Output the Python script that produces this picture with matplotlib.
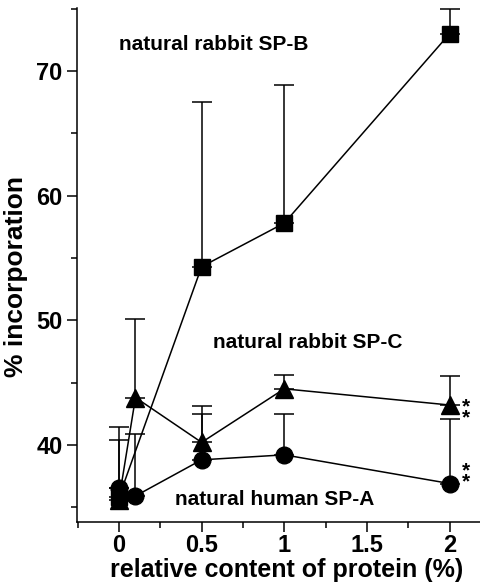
import numpy as np
import matplotlib
matplotlib.use("Agg")
import matplotlib.pyplot as plt
from matplotlib.ticker import MultipleLocator

plt.rcParams['font.family'] = ['Liberation Sans', 'DejaVu Sans']
plt.rcParams['font.weight'] = 'bold'

# --- data ---
x_spb = [0, 0.5, 1, 2]
y_spb = [35.8, 54.3, 57.8, 73.0]
e_spb = [5.6, 13.2, 11.1, 2.0]

x_spc = [0, 0.1, 0.5, 1, 2]
y_spc = [35.6, 43.8, 40.2, 44.5, 43.2]
e_spc = [4.8, 6.3, 2.9, 1.1, 2.3]

x_spa = [0, 0.1, 0.5, 1, 2]
y_spa = [36.5, 35.9, 38.8, 39.2, 36.9]
e_spa = [0.0, 5.0, 3.7, 3.3, 5.2]

fig = plt.figure(figsize=(4.81, 5.86), dpi=100)
ax = fig.add_axes([0.160, 0.109, 0.840, 0.877])

series = [
    (x_spb, y_spb, e_spb, 's', 11),
    (x_spc, y_spc, e_spc, '^', 13),
    (x_spa, y_spa, e_spa, 'o', 12),
]
for xs, ys, es, mk, ms in series:
    ax.errorbar(xs, ys, yerr=[np.zeros(len(es)), es], fmt='none',
                ecolor='black', elinewidth=1.1, capsize=7, capthick=1.1, zorder=2)
    ax.plot(xs, ys, color='black', linewidth=1.1, marker=mk, markersize=ms,
            markerfacecolor='black', markeredgecolor='black', zorder=3)

ax.text(0.0, 72.1, 'natural rabbit SP-B', fontsize=15, fontweight='bold', va='center')
ax.text(0.57, 48.25, 'natural rabbit SP-C', fontsize=15, fontweight='bold', va='center')
ax.text(0.34, 35.6, 'natural human SP-A', fontsize=15, fontweight='bold', va='center')

ax.text(2.10, 42.6, '*\n*', fontsize=15, fontweight='bold', va='center', ha='center', linespacing=0.45)
ax.text(2.10, 37.5, '*\n*', fontsize=15, fontweight='bold', va='center', ha='center', linespacing=0.45)

ax.set_xlim(-0.254, 2.19)
ax.set_ylim(33.8, 75.05)

ax.xaxis.set_major_locator(MultipleLocator(0.5))
ax.xaxis.set_minor_locator(MultipleLocator(0.25))
ax.yaxis.set_major_locator(MultipleLocator(10))
ax.yaxis.set_minor_locator(MultipleLocator(5))
ax.set_xticks([0, 0.5, 1, 1.5, 2])
ax.set_xticklabels(['0', '0.5', '1', '1.5', '2'])

ax.spines['top'].set_visible(False)
ax.spines['right'].set_visible(False)
ax.spines['left'].set_linewidth(1.1)
ax.spines['bottom'].set_linewidth(1.1)

ax.tick_params(which='major', direction='out', length=7, width=1.1, labelsize=17)
ax.tick_params(axis='x', which='major', pad=1.5)
ax.tick_params(which='minor', direction='out', length=4, width=1.1)
for lab in ax.get_xticklabels() + ax.get_yticklabels():
    lab.set_fontweight('bold')

ax.set_xlabel('relative content of protein (%)', fontsize=18, fontweight='bold')
ax.xaxis.set_label_coords(0.52, -0.070)
ax.set_ylabel('% incorporation', fontsize=19, fontweight='bold')
ax.yaxis.set_label_coords(-0.121, 0.477)

fig.savefig('out.png', dpi=100)
